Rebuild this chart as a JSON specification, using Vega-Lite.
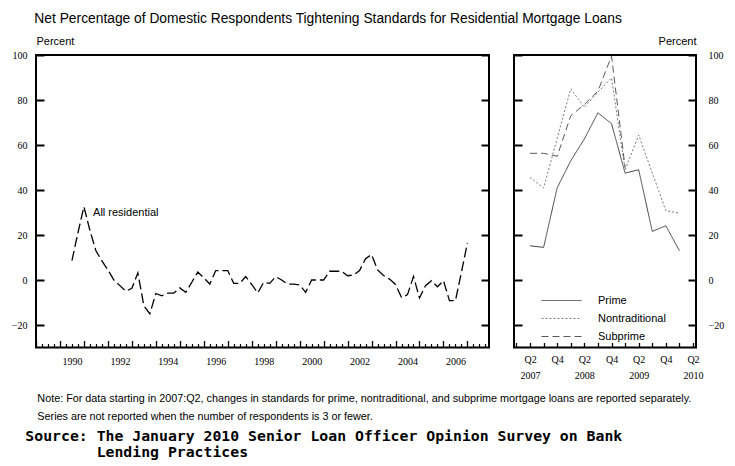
{
  "$schema": "https://vega.github.io/schema/vega-lite/v6.json",
  "background": "white",
  "padding": {"left": 10, "top": 12, "right": 5, "bottom": 5},
  "config": {
    "view": {"stroke": "black", "strokeWidth": 2},
    "font": "Liberation Sans",
    "axis": {"domain": false, "grid": false, "tickColor": "black", "labelColor": "black", "labelFont": "Liberation Sans Narrow", "labelFontSize": 10, "titleFont": "Liberation Sans", "titleFontSize": 11, "titleFontWeight": "normal", "titleColor": "black", "labelFlush": false, "labelOverlap": false},
    "legend": {"title": null, "orient": "none", "legendX": 520, "legendY": 240, "symbolType": "M-4,0H4", "symbolSize": 100, "symbolStrokeWidth": 1, "labelFont": "Liberation Sans", "labelFontSize": 11, "labelColor": "black", "labelOffset": 31, "rowPadding": 6}
  },
  "title": {
    "text": ["\u200b\u00a0\u00a0\u00a0\u00a0Note: For data starting in 2007:Q2, changes in standards for prime, nontraditional, and subprime mortgage loans are reported separately.", "\u200b\u00a0\u00a0\u00a0\u00a0Series are not reported when the number of respondents is 3 or fewer."],
    "subtitle": ["Source: The January 2010 Senior Loan Officer Opinion Survey on Bank", "\u200b\u00a0\u00a0\u00a0\u00a0\u00a0\u00a0\u00a0\u00a0Lending Practices"],
    "orient": "bottom",
    "anchor": "start",
    "offset": 11,
    "dx": 15,
    "font": "Liberation Sans",
    "fontSize": 10.8,
    "fontWeight": "normal",
    "lineHeight": 18,
    "color": "black",
    "subtitleFont": "DejaVu Sans Mono",
    "subtitleFontSize": 14.8,
    "subtitleFontWeight": "bold",
    "subtitleLineHeight": 16,
    "subtitleColor": "black",
    "subtitlePadding": 8
  },
  "datasets": {
    "allres": [
      {"t": 1990.5, "v": 8.6}, {"t": 1990.75, "v": 21}, {"t": 1991.0, "v": 32.6}, {"t": 1991.25, "v": 22},
      {"t": 1991.5, "v": 13}, {"t": 1991.75, "v": 8.5}, {"t": 1992.0, "v": 4.5}, {"t": 1992.25, "v": 0},
      {"t": 1992.5, "v": -2.5}, {"t": 1992.75, "v": -5}, {"t": 1993.0, "v": -3.7}, {"t": 1993.25, "v": 3.2},
      {"t": 1993.5, "v": -11.5}, {"t": 1993.75, "v": -15}, {"t": 1994.0, "v": -6}, {"t": 1994.25, "v": -7},
      {"t": 1994.5, "v": -5.8}, {"t": 1994.75, "v": -5.8}, {"t": 1995.0, "v": -3.5}, {"t": 1995.25, "v": -5.5},
      {"t": 1995.5, "v": -1}, {"t": 1995.75, "v": 3.5}, {"t": 1996.0, "v": 1}, {"t": 1996.25, "v": -1.8},
      {"t": 1996.5, "v": 4.2}, {"t": 1996.75, "v": 4.2}, {"t": 1997.0, "v": 4.2}, {"t": 1997.25, "v": -1.5},
      {"t": 1997.5, "v": -1.5}, {"t": 1997.75, "v": 1.5}, {"t": 1998.0, "v": -2}, {"t": 1998.25, "v": -5.8},
      {"t": 1998.5, "v": -1}, {"t": 1998.75, "v": -1.5}, {"t": 1999.0, "v": 1.5}, {"t": 1999.25, "v": 0},
      {"t": 1999.5, "v": -1.8}, {"t": 1999.75, "v": -1.8}, {"t": 2000.0, "v": -2.2}, {"t": 2000.25, "v": -5.5},
      {"t": 2000.5, "v": 0}, {"t": 2000.75, "v": 0}, {"t": 2001.0, "v": 0}, {"t": 2001.25, "v": 3.9},
      {"t": 2001.5, "v": 3.9}, {"t": 2001.75, "v": 3.9}, {"t": 2002.0, "v": 1.9}, {"t": 2002.25, "v": 2.2},
      {"t": 2002.5, "v": 4.2}, {"t": 2002.75, "v": 9.5}, {"t": 2003.0, "v": 11.3}, {"t": 2003.25, "v": 4.5},
      {"t": 2003.5, "v": 2}, {"t": 2003.75, "v": 0.4}, {"t": 2004.0, "v": -2}, {"t": 2004.25, "v": -7.8},
      {"t": 2004.5, "v": -6.5}, {"t": 2004.75, "v": 1.6}, {"t": 2005.0, "v": -8}, {"t": 2005.25, "v": -2.5},
      {"t": 2005.5, "v": -0.3}, {"t": 2005.75, "v": -3}, {"t": 2006.0, "v": -0.3}, {"t": 2006.25, "v": -9.2},
      {"t": 2006.5, "v": -9.2}, {"t": 2006.75, "v": 3.5}, {"t": 2007.0, "v": 16.5}
    ],
    "segments": [
      {"q": 0, "series": "Prime", "v": 15.2}, {"q": 1, "series": "Prime", "v": 14.5}, {"q": 2, "series": "Prime", "v": 41},
      {"q": 3, "series": "Prime", "v": 53}, {"q": 4, "series": "Prime", "v": 62.7}, {"q": 5, "series": "Prime", "v": 74.3},
      {"q": 6, "series": "Prime", "v": 69.5}, {"q": 7, "series": "Prime", "v": 47.5}, {"q": 8, "series": "Prime", "v": 49},
      {"q": 9, "series": "Prime", "v": 21.6}, {"q": 10, "series": "Prime", "v": 24.1}, {"q": 11, "series": "Prime", "v": 13},
      {"q": 0, "series": "Nontraditional", "v": 45.6}, {"q": 1, "series": "Nontraditional", "v": 40.9}, {"q": 2, "series": "Nontraditional", "v": 63},
      {"q": 3, "series": "Nontraditional", "v": 85}, {"q": 4, "series": "Nontraditional", "v": 76.7}, {"q": 5, "series": "Nontraditional", "v": 83.5},
      {"q": 6, "series": "Nontraditional", "v": 89.8}, {"q": 7, "series": "Nontraditional", "v": 49}, {"q": 8, "series": "Nontraditional", "v": 64.4},
      {"q": 9, "series": "Nontraditional", "v": 47.6}, {"q": 10, "series": "Nontraditional", "v": 30.8}, {"q": 11, "series": "Nontraditional", "v": 29.7},
      {"q": 0, "series": "Subprime", "v": 56.3}, {"q": 1, "series": "Subprime", "v": 56.3}, {"q": 2, "series": "Subprime", "v": 55},
      {"q": 3, "series": "Subprime", "v": 73}, {"q": 4, "series": "Subprime", "v": 78}, {"q": 5, "series": "Subprime", "v": 84},
      {"q": 6, "series": "Subprime", "v": 99.5}, {"q": 7, "series": "Subprime", "v": 50}
    ]
  },
  "vconcat": [
    {
      "title": {"text": "Net Percentage of Domestic Respondents Tightening Standards for Residential Mortgage Loans", "anchor": "start", "font": "Liberation Sans", "fontSize": 13.8, "fontWeight": "normal", "color": "black", "offset": 8, "dx": 24},
      "spacing": 21,
      "hconcat": [
        {
          "width": 453,
          "height": 292.5,
          "resolve": {"axis": {"x": "independent", "y": "independent"}},
          "layer": [
            {
              "data": {"name": "allres"},
              "mark": {"type": "line", "color": "black", "strokeWidth": 1.3, "strokeDash": [10, 4]},
              "encoding": {
                "x": {"field": "t", "type": "quantitative", "scale": {"domain": [1989, 2007.9], "nice": false, "zero": false},
                  "axis": {"orient": "bottom", "title": null, "values": [1990.5, 1992.5, 1994.5, 1996.5, 1998.5, 2000.5, 2002.5, 2004.5, 2006.5], "labelExpr": "floor(datum.value)", "ticks": false, "labelPadding": 9}},
                "y": {"field": "v", "type": "quantitative", "scale": {"domain": [-30, 100], "nice": false, "zero": false},
                  "axis": {"orient": "left", "values": [-20, 0, 20, 40, 60, 80, 100], "tickSize": -8, "tickWidth": 2, "labelPadding": 17, "title": "Percent", "titleAngle": 0, "titleAlign": "left", "titleBaseline": "alphabetic", "titleX": 0, "titleY": -11}}
              }
            },
            {
              "mark": {"type": "rule", "color": "black", "strokeWidth": 1.3},
              "encoding": {
                "x": {"datum": 1989, "type": "quantitative", "scale": {"domain": [1989, 2007.9], "nice": false, "zero": false},
                  "axis": {"orient": "bottom", "title": null, "values": [1989, 1990, 1991, 1992, 1993, 1994, 1995, 1996, 1997, 1998, 1999, 2000, 2001, 2002, 2003, 2004, 2005, 2006, 2007], "labels": false, "tickSize": -7, "tickWidth": 1.3}},
                "x2": {"datum": 2007.9},
                "y": {"datum": 0, "type": "quantitative", "scale": {"domain": [-30, 100], "nice": false, "zero": false},
                  "axis": {"orient": "right", "values": [-20, 0, 20, 40, 60, 80, 100], "tickSize": -8, "tickWidth": 2, "labels": false, "title": null}}
              }
            },
            {
              "data": {"values": [{}]},
              "mark": {"type": "text", "align": "left", "baseline": "middle", "fontSize": 11, "font": "Liberation Sans", "color": "black"},
              "encoding": {
                "text": {"value": "All residential"},
                "x": {"datum": 1991.38, "type": "quantitative", "scale": {"domain": [1989, 2007.9], "nice": false, "zero": false},
                  "axis": {"orient": "bottom", "title": null, "labels": false, "tickSize": -4, "tickWidth": 1.2, "values": [1989.25, 1989.5, 1989.75, 1990.25, 1990.5, 1990.75, 1991.25, 1991.5, 1991.75, 1992.25, 1992.5, 1992.75, 1993.25, 1993.5, 1993.75, 1994.25, 1994.5, 1994.75, 1995.25, 1995.5, 1995.75, 1996.25, 1996.5, 1996.75, 1997.25, 1997.5, 1997.75, 1998.25, 1998.5, 1998.75, 1999.25, 1999.5, 1999.75, 2000.25, 2000.5, 2000.75, 2001.25, 2001.5, 2001.75, 2002.25, 2002.5, 2002.75, 2003.25, 2003.5, 2003.75, 2004.25, 2004.5, 2004.75, 2005.25, 2005.5, 2005.75, 2006.25, 2006.5, 2006.75, 2007.25, 2007.5, 2007.75]}},
                "y": {"datum": 29.8, "type": "quantitative", "scale": {"domain": [-30, 100], "nice": false, "zero": false}, "axis": null}
              }
            }
          ]
        },
        {
          "width": 182,
          "height": 292.5,
          "resolve": {"axis": {"x": "independent", "y": "independent"}},
          "layer": [
            {
              "data": {"name": "segments"},
              "mark": {"type": "line", "strokeWidth": 1},
              "encoding": {
                "x": {"field": "q", "type": "quantitative", "scale": {"domain": [-1.18, 12.22], "nice": false, "zero": false},
                  "axis": {"orient": "bottom", "title": null, "values": [-1, 0, 1, 2, 3, 4, 5, 6, 7, 8, 9, 10, 11, 12], "tickSize": -5, "tickWidth": 1.3, "labelPadding": 12, "labelLineHeight": 16, "labelBaseline": "top",
                    "labelExpr": "datum.value==0?['Q2','2007']:datum.value==2?'Q4':datum.value==4?['Q2','2008']:datum.value==6?'Q4':datum.value==8?['Q2','2009']:datum.value==10?'Q4':datum.value==12?['Q2','2010']:''"}},
                "y": {"field": "v", "type": "quantitative", "scale": {"domain": [-30, 100], "nice": false, "zero": false},
                  "axis": {"orient": "right", "values": [-20, 0, 20, 40, 60, 80, 100], "tickSize": -8, "tickWidth": 2, "labelPadding": 20, "title": "Percent", "titleAngle": 0, "titleAlign": "right", "titleBaseline": "alphabetic", "titleX": 0, "titleY": -11}},
                "color": {"field": "series", "type": "nominal", "scale": {"domain": ["Prime", "Nontraditional", "Subprime"], "range": ["#444444", "#7a7a7a", "#5a5a5a"]}},
                "strokeDash": {"field": "series", "type": "nominal", "scale": {"domain": ["Prime", "Nontraditional", "Subprime"], "range": [[1, 0], [2, 2], [7, 4]]}}
              }
            },
            {
              "mark": {"type": "rule", "color": "black", "strokeWidth": 1.3},
              "encoding": {
                "x": {"datum": -1.18, "type": "quantitative", "scale": {"domain": [-1.18, 12.22], "nice": false, "zero": false}, "axis": null},
                "x2": {"datum": 12.22},
                "y": {"datum": 0, "type": "quantitative", "scale": {"domain": [-30, 100], "nice": false, "zero": false},
                  "axis": {"orient": "left", "values": [-20, 0, 20, 40, 60, 80, 100], "tickSize": -8, "tickWidth": 2, "labels": false, "title": null}}
              }
            }
          ]
        }
      ]
    }
  ]
}
